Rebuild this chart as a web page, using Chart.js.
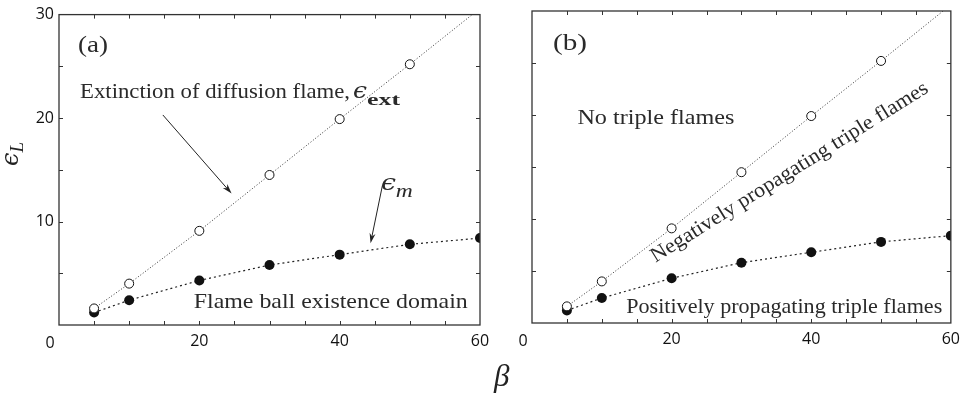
<!DOCTYPE html>
<html>
<head>
<meta charset="utf-8">
<script src="https://cdn.jsdelivr.net/npm/chart.js@4.4.0/dist/chart.umd.min.js"></script>
<style>
  body { margin: 0; background: #fff; }
  #page { position: relative; width: 967px; height: 397px; overflow: hidden; }
  canvas { position: absolute; top: 0; }
  #chartA { left: 0; }
  #chartB { left: 500px; }
  .title { position: absolute; font-family: "Liberation Serif", serif; font-style: italic; color: #222; }
  #yTitle { left: -10px; top: 139px; width: 40px; height: 30px; line-height: 30px; text-align: center;
            transform: rotate(-90deg); font-size: 24px; }
  #yTitle .eps { font-family: "DejaVu Serif", serif; }
  #yTitle sub { font-size: 19px; vertical-align: -5px; }
  #xTitle { left: 494px; top: 358px; font-size: 31px; }
</style>
</head>
<body>
<div id="page">
  <canvas id="chartA" width="520" height="397"></canvas>
  <canvas id="chartB" width="467" height="397"></canvas>
  <div class="title" id="yTitle"><span class="eps">ϵ</span><sub>L</sub></div>
  <div class="title" id="xTitle">β</div>
</div>
<script>
// activation energy and the two limiting Lewis-number curves
const betaValues = [5, 10, 20, 30, 40, 50, 60];
const epsExtinction = [1.6, 4.0, 9.1, 14.5, 19.9, 25.2, 30.6];
const epsFlameBall = [1.2, 2.4, 4.3, 5.8, 6.8, 7.8, 8.4];

const xTickValues = [0, 20, 40, 60];
const yTickValues = [0, 10, 20, 30];
const minorStep = 5;

const serif = '"Liberation Serif", serif';
const tickFont = { family: '"Open Sans", sans-serif', size: 16 };
const inkColor = '#111';

function toPoints(ys) {
  return betaValues.map((b, i) => ({ x: b, y: ys[i] }));
}

// frame, inward ticks on all four sides, corner zero, labels and arrows
const panelDecor = {
  id: 'panelDecor',
  afterDatasetsDraw(chart, args, opts) {
    const ctx = chart.ctx;
    const area = chart.chartArea;
    const xs = chart.scales.x, ys = chart.scales.y;

    ctx.save();
    ctx.strokeStyle = '#333';
    ctx.lineWidth = 1.3;
    ctx.strokeRect(area.left, area.top, area.right - area.left, area.bottom - area.top);

    ctx.lineWidth = 1;
    ctx.beginPath();
    for (let v = xs.min + minorStep; v < xs.max; v += minorStep) {
      const px = Math.round(xs.getPixelForValue(v)) + 0.5;
      ctx.moveTo(px, area.bottom); ctx.lineTo(px, area.bottom - 4);
      ctx.moveTo(px, area.top); ctx.lineTo(px, area.top + 4);
    }
    for (let v = ys.min + minorStep; v < ys.max; v += minorStep) {
      const py = Math.round(ys.getPixelForValue(v)) + 0.5;
      ctx.moveTo(area.left, py); ctx.lineTo(area.left + 4, py);
      ctx.moveTo(area.right, py); ctx.lineTo(area.right - 4, py);
    }
    ctx.stroke();

    // the shared zero sits off the corner
    ctx.fillStyle = inkColor;
    ctx.font = tickFont.size + 'px ' + tickFont.family;
    ctx.textAlign = 'center';
    ctx.textBaseline = 'middle';
    ctx.fillText('0', area.left - 9, area.bottom + 18);

    (opts.texts || []).forEach(t => {
      ctx.save();
      ctx.font = t.font;
      ctx.fillStyle = '#2a2a2a';
      ctx.textAlign = 'left';
      ctx.textBaseline = 'alphabetic';
      ctx.translate(xs.getPixelForValue(t.x), ys.getPixelForValue(t.y));
      if (t.angle) ctx.rotate(-t.angle * Math.PI / 180);
      if (t.width) ctx.scale(t.width / ctx.measureText(t.text).width, 1);
      ctx.fillText(t.text, 0, 0);
      ctx.restore();
    });

    (opts.arrows || []).forEach(a => {
      const x0 = xs.getPixelForValue(a.from[0]), y0 = ys.getPixelForValue(a.from[1]);
      const x1 = xs.getPixelForValue(a.to[0]), y1 = ys.getPixelForValue(a.to[1]);
      const c = Math.cos(Math.atan2(y1 - y0, x1 - x0));
      const s = Math.sin(Math.atan2(y1 - y0, x1 - x0));
      ctx.strokeStyle = '#222';
      ctx.fillStyle = '#222';
      ctx.lineWidth = 1;
      ctx.beginPath();
      ctx.moveTo(x0, y0);
      ctx.lineTo(x1 - 6 * c, y1 - 6 * s);
      ctx.stroke();
      ctx.beginPath();
      ctx.moveTo(x1, y1);
      ctx.lineTo(x1 - 10 * c + 3 * s, y1 - 10 * s - 3 * c);
      ctx.lineTo(x1 - 7 * c, y1 - 7 * s);
      ctx.lineTo(x1 - 10 * c - 3 * s, y1 - 10 * s + 3 * c);
      ctx.closePath();
      ctx.fill();
    });
    ctx.restore();
  }
};

function makePanel(id, layout, decor) {
  return new Chart(document.getElementById(id), {
    type: 'line',
    data: {
      datasets: [
        {
          data: toPoints(epsExtinction),
          borderColor: '#333',
          borderWidth: 1,
          borderDash: [1, 2],
          pointRadius: 4.5,
          pointBorderWidth: 1,
          pointBorderColor: inkColor,
          pointBackgroundColor: '#fff',
          tension: 0
        },
        {
          data: toPoints(epsFlameBall),
          borderColor: '#222',
          borderWidth: 1.2,
          borderDash: [2, 3],
          pointRadius: 5,
          pointBorderWidth: 0,
          pointBackgroundColor: '#111',
          tension: 0
        }
      ]
    },
    options: {
      responsive: false,
      animation: false,
      layout: { padding: { top: layout.top, right: layout.right, left: 0, bottom: 0 } },
      plugins: {
        legend: { display: false },
        tooltip: { enabled: false },
        panelDecor: decor
      },
      scales: {
        x: {
          type: 'linear',
          min: 0,
          max: 60,
          afterBuildTicks: s => { s.ticks = xTickValues.map(v => ({ value: v })); },
          ticks: {
            font: tickFont,
            color: inkColor,
            padding: 7,
            maxRotation: 0,
            callback: v => (v === 0 ? '' : v)
          },
          grid: { display: false, drawTicks: false },
          border: { display: false },
          afterFit: s => { s.height = layout.xHeight; }
        },
        y: {
          min: 0,
          max: 30,
          afterBuildTicks: s => { s.ticks = yTickValues.map(v => ({ value: v })); },
          ticks: {
            display: layout.yLabels,
            font: tickFont,
            color: inkColor,
            padding: 5,
            callback: v => (v === 0 ? '' : v)
          },
          grid: { display: false, drawTicks: false },
          border: { display: false },
          afterFit: s => { s.width = layout.yWidth; }
        }
      }
    },
    plugins: [panelDecor]
  });
}

makePanel('chartA',
  { top: 13, right: 40, xHeight: 72, yWidth: 59, yLabels: true },
  {
    texts: [
      { text: '(a)', x: 2.7, y: 26.4, font: '24px ' + serif, width: 30 },
      { text: 'Extinction of diffusion flame,', x: 3.0, y: 21.9, font: '21px ' + serif, width: 270 },
      { text: 'ϵ', x: 41.9, y: 21.9, font: 'italic 22px "DejaVu Serif", serif', width: 14 },
      { text: 'ext', x: 43.9, y: 21.25, font: 'bold 17px ' + serif, width: 33 },
      { text: 'Flame ball existence domain', x: 19.2, y: 1.63, font: '21px ' + serif, width: 274 },
      { text: 'ϵ', x: 45.9, y: 13.0, font: 'italic 22px "DejaVu Serif", serif', width: 15 },
      { text: 'm', x: 48.0, y: 12.4, font: 'italic 19px ' + serif, width: 17 }
    ],
    arrows: [
      { from: [14.8, 20.3], to: [24.6, 12.7] },
      { from: [46.1, 13.5], to: [44.4, 7.9] }
    ]
  });

makePanel('chartB',
  { top: 11, right: 12, xHeight: 74, yWidth: 32, yLabels: false },
  {
    texts: [
      { text: '(b)', x: 3.0, y: 26.25, font: '24px ' + serif, width: 34 },
      { text: 'No triple flames', x: 6.5, y: 19.1, font: '21px ' + serif, width: 157 },
      { text: 'Negatively propagating triple flames', x: 17.7, y: 5.8, angle: 32, font: '21px ' + serif, width: 323 },
      { text: 'Positively propagating triple flames', x: 13.5, y: 0.96, font: '21px ' + serif, width: 316 }
    ]
  });
</script>
</body>
</html>
